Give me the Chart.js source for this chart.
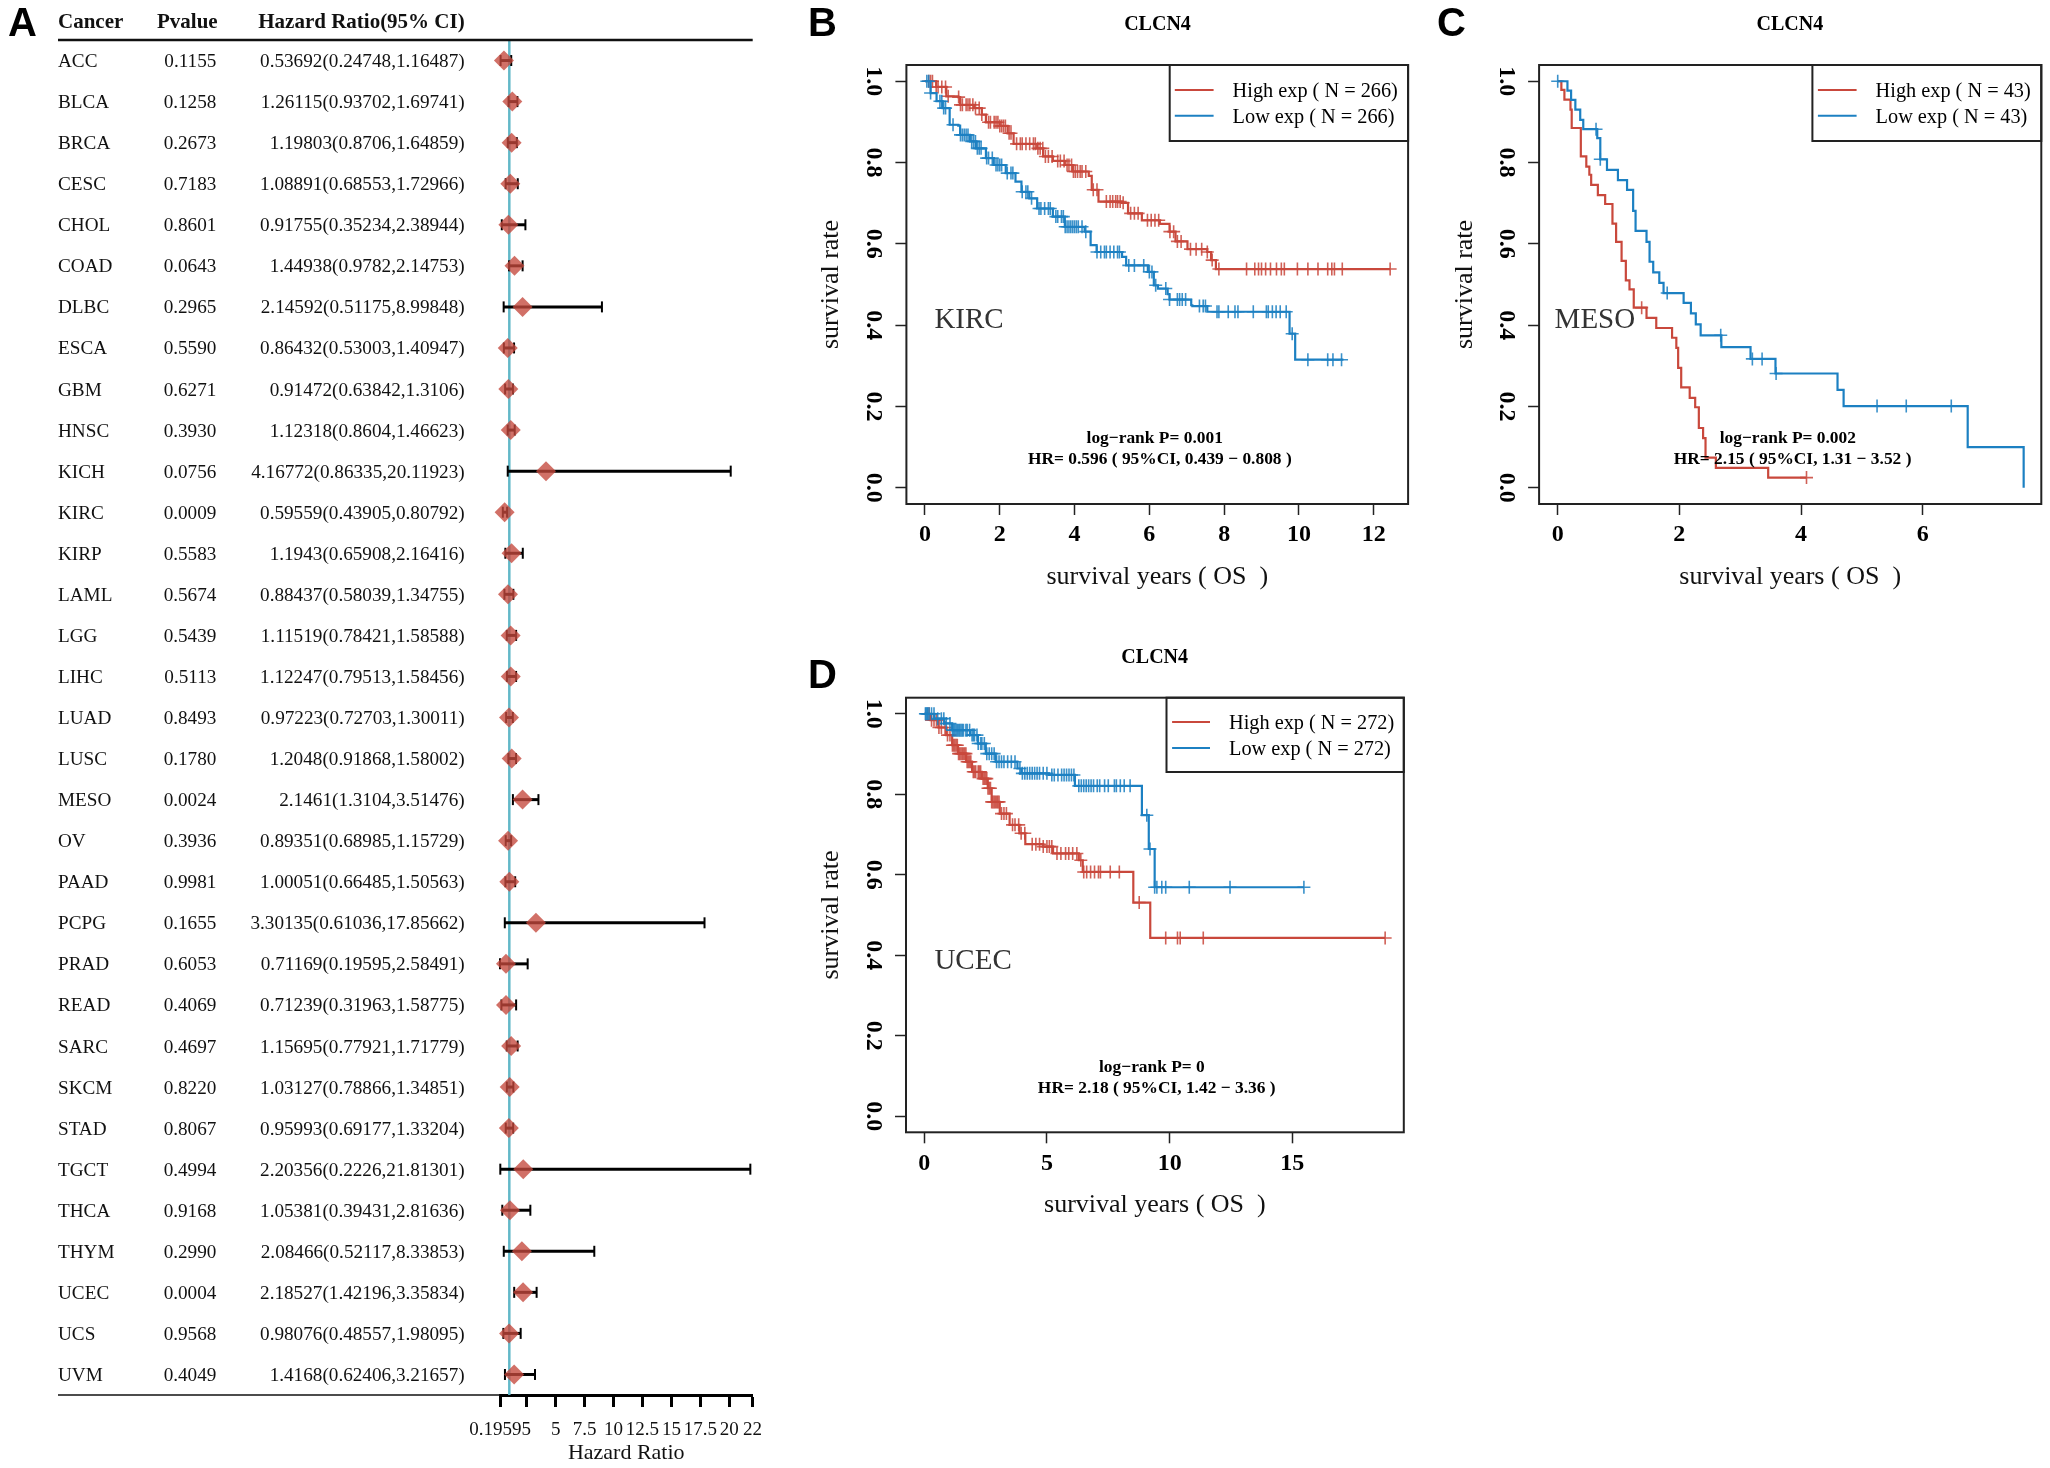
<!DOCTYPE html>
<html>
<head>
<meta charset="utf-8">
<title>CLCN4 survival</title>
<script src="https://cdn.jsdelivr.net/npm/chart.js@4"></script>
<style>
  html, body { margin: 0; padding: 0; background: #fff; }
  canvas { position: absolute; }
</style>
</head>
<body>
<canvas id="panelA" width="790" height="1468" style="left:0;top:0"></canvas>
<canvas id="panelB" width="620" height="620" style="left:800px;top:0"></canvas>
<canvas id="panelC" width="620" height="620" style="left:1430px;top:0"></canvas>
<canvas id="panelD" width="620" height="630" style="left:800px;top:630px"></canvas>
<script>
// forest plot table
const cancers = ["ACC","BLCA","BRCA","CESC","CHOL","COAD","DLBC","ESCA","GBM","HNSC","KICH","KIRC","KIRP","LAML","LGG","LIHC","LUAD","LUSC","MESO","OV","PAAD","PCPG","PRAD","READ","SARC","SKCM","STAD","TGCT","THCA","THYM","UCEC","UCS","UVM"];
const pValues = [0.1155,0.1258,0.2673,0.7183,0.8601,0.0643,0.2965,0.5590,0.6271,0.3930,0.0756,0.0009,0.5583,0.5674,0.5439,0.5113,0.8493,0.1780,0.0024,0.3936,0.9981,0.1655,0.6053,0.4069,0.4697,0.8220,0.8067,0.4994,0.9168,0.2990,0.0004,0.9568,0.4049];
const hazard = [0.53692,1.26115,1.19803,1.08891,0.91755,1.44938,2.14592,0.86432,0.91472,1.12318,4.16772,0.59559,1.1943,0.88437,1.11519,1.12247,0.97223,1.2048,2.1461,0.89351,1.00051,3.30135,0.71169,0.71239,1.15695,1.03127,0.95993,2.20356,1.05381,2.08466,2.18527,0.98076,1.4168];
const ciLow = [0.24748,0.93702,0.8706,0.68553,0.35234,0.9782,0.51175,0.53003,0.63842,0.8604,0.86335,0.43905,0.65908,0.58039,0.78421,0.79513,0.72703,0.91868,1.3104,0.68985,0.66485,0.61036,0.19595,0.31963,0.77921,0.78866,0.69177,0.2226,0.39431,0.52117,1.42196,0.48557,0.62406];
const ciHigh = [1.16487,1.69741,1.64859,1.72966,2.38944,2.14753,8.99848,1.40947,1.3106,1.46623,20.11923,0.80792,2.16416,1.34755,1.58588,1.58456,1.30011,1.58002,3.51476,1.15729,1.50563,17.85662,2.58491,1.58775,1.71779,1.34851,1.33204,21.81301,2.81636,8.33853,3.35834,1.98095,3.21657];
const hrTicks = [0.19595,2.5,5,7.5,10,12.5,15,17.5,20,22];
const hrTickLabels = ["0.19595","","5","7.5","10","12.5","15","17.5","20","22"];

// KIRC curves, years and survival
const kircHighTime = [0,0.3,0.57,0.89,0.94,1.31,1.52,1.63,2.0,2.21,2.37,3.0,3.16,3.42,3.74,3.95,4.38,4.46,4.64,5.27,5.43,5.8,6.28,6.54,6.7,7.02,7.55,7.65,7.78,12.44];
const kircHighSurv = [1,0.986,0.963,0.961,0.942,0.934,0.918,0.899,0.89,0.872,0.846,0.835,0.815,0.804,0.794,0.778,0.767,0.733,0.704,0.701,0.675,0.658,0.649,0.63,0.606,0.587,0.58,0.56,0.538,0.538];
const kircHighCensor = [0.1,0.15,0.2,0.3,0.35,0.45,0.55,0.62,0.9,0.95,1.0,1.1,1.15,1.2,1.28,1.35,1.45,1.52,1.7,1.75,1.85,1.9,1.95,2.0,2.05,2.1,2.15,2.25,2.3,2.45,2.55,2.6,2.7,2.8,2.9,2.95,3.02,3.08,3.15,3.22,3.3,3.4,3.55,3.62,3.72,3.8,3.85,3.92,3.97,4.02,4.08,4.15,4.2,4.3,4.5,4.6,4.85,4.95,5.02,5.1,5.15,5.22,5.3,5.5,5.6,5.7,5.95,6.05,6.15,6.25,6.55,6.65,6.75,6.85,7.1,7.25,7.4,7.55,7.68,7.86,8.6,8.82,8.92,9.0,9.11,9.24,9.4,9.53,9.61,9.96,10.24,10.51,10.77,10.88,10.95,11.16,12.44];
const kircLowTime = [0,0.15,0.31,0.47,0.66,0.89,0.94,1.2,1.36,1.63,1.84,2.16,2.42,2.58,2.79,3.0,3.42,3.74,4.27,4.43,4.59,5.27,5.38,5.96,6.12,6.23,6.49,6.54,7.12,7.15,7.55,9.75,9.9,11.19];
const kircLowSurv = [1,0.971,0.951,0.934,0.893,0.891,0.868,0.852,0.835,0.811,0.794,0.774,0.753,0.728,0.712,0.687,0.667,0.642,0.63,0.597,0.58,0.568,0.547,0.531,0.498,0.49,0.476,0.463,0.449,0.447,0.433,0.379,0.315,0.315];
const kircLowCensor = [0.05,0.1,0.15,0.4,0.45,0.5,0.55,0.75,0.95,1.0,1.05,1.1,1.15,1.25,1.3,1.35,1.4,1.45,1.5,1.65,1.7,1.8,1.9,1.95,2.0,2.05,2.2,2.3,2.35,2.6,2.7,2.75,2.85,3.05,3.1,3.2,3.3,3.35,3.5,3.55,3.65,3.7,3.75,3.8,3.85,3.9,3.95,4.0,4.05,4.1,4.2,4.3,4.6,4.7,4.8,4.85,4.95,5.05,5.15,5.2,5.45,5.6,5.85,6.0,6.07,6.17,6.44,6.54,6.75,6.81,6.88,6.97,7.34,7.44,7.5,7.81,7.86,8.11,8.29,8.37,8.78,9.13,9.18,9.29,9.39,9.5,9.66,9.82,10.24,10.77,10.91,11.14];

// MESO curves, panel C
const mesoHighTime = [0,0.06,0.11,0.21,0.23,0.38,0.47,0.52,0.55,0.66,0.78,0.9,0.96,1.05,1.12,1.18,1.25,1.46,1.62,1.88,1.95,1.98,2.03,2.17,2.26,2.32,2.39,2.43,2.6,3.46,4.09];
const mesoHighSurv = [1,0.979,0.955,0.93,0.885,0.815,0.79,0.77,0.745,0.72,0.698,0.65,0.605,0.558,0.51,0.488,0.443,0.418,0.393,0.369,0.344,0.295,0.247,0.221,0.198,0.147,0.122,0.074,0.049,0.025,0.025];
const mesoHighCensor = [1.38,4.09];
const mesoLowTime = [0,0.16,0.22,0.29,0.37,0.42,0.65,0.7,0.81,0.99,1.14,1.24,1.28,1.46,1.51,1.57,1.67,1.74,2.07,2.19,2.27,2.35,2.69,3.17,3.58,4.6,4.7,6.74,7.66];
const mesoLowSurv = [1,0.977,0.954,0.93,0.905,0.882,0.86,0.808,0.782,0.757,0.733,0.681,0.632,0.605,0.556,0.53,0.504,0.479,0.455,0.429,0.402,0.375,0.346,0.317,0.281,0.241,0.201,0.1,0];
const mesoLowCensor = [0,0.63,0.7,1.8,2.68,3.2,3.36,3.59,5.25,5.73,6.47];

// UCEC curves, panel D
const ucecHighTime = [0,0.26,0.58,0.9,1.14,1.38,1.71,1.95,2.35,2.59,2.75,3.08,3.48,3.88,4.12,4.85,5.25,6.3,6.46,8.52,9.21,18.78];
const ucecHighSurv = [1,0.984,0.966,0.947,0.922,0.901,0.881,0.856,0.839,0.815,0.781,0.752,0.724,0.703,0.676,0.67,0.653,0.636,0.607,0.531,0.443,0.443];
const ucecHighCensor = [0.2,0.3,0.4,0.5,0.6,0.7,0.85,0.95,1.05,1.15,1.2,1.25,1.3,1.35,1.4,1.45,1.5,1.55,1.6,1.65,1.7,1.75,1.8,1.85,1.9,2.0,2.05,2.1,2.2,2.25,2.3,2.4,2.45,2.5,2.55,2.6,2.65,2.7,2.75,2.8,2.85,2.9,2.95,3.0,3.05,3.15,3.25,3.35,3.6,3.7,3.85,3.95,4.1,4.4,4.55,4.7,4.85,5.0,5.1,5.2,5.41,5.57,5.76,5.89,6.05,6.22,6.38,6.5,6.62,6.78,6.94,7.1,7.18,7.58,7.95,8.76,9.84,10.32,10.43,11.37,18.78];
const ucecLowTime = [0,0.42,0.82,1.14,1.87,2.19,2.51,2.91,3.8,3.96,5.09,6.14,8.87,9.15,9.39,15.47];
const ucecLowSurv = [1,0.988,0.976,0.959,0.947,0.926,0.901,0.881,0.864,0.852,0.848,0.821,0.748,0.664,0.569,0.569];
const ucecLowCensor = [0.05,0.08,0.12,0.15,0.2,0.3,0.4,0.55,0.7,0.8,0.9,1.05,1.15,1.2,1.25,1.3,1.35,1.4,1.45,1.5,1.55,1.6,1.7,1.75,1.85,1.95,2.0,2.05,2.15,2.2,2.3,2.35,2.45,2.55,2.65,2.75,2.85,2.95,3.05,3.15,3.25,3.4,3.55,3.7,3.9,4.0,4.1,4.2,4.3,4.4,4.5,4.6,4.7,4.85,5.0,5.2,5.3,5.45,5.6,5.7,5.8,5.9,6.0,6.1,6.3,6.4,6.5,6.6,6.7,6.8,6.9,7.05,7.15,7.35,7.5,7.75,7.83,7.99,8.15,8.39,9.07,9.2,9.39,9.48,9.68,9.84,10.8,12.46,15.47];

const survivalTicks = [0,0.2,0.4,0.6,0.8,1];

const RED = "#c9483c";
const BLUE = "#1c80c2";
const SERIF = "'Liberation Serif'";

Chart.defaults.font.family = SERIF;
Chart.defaults.color = "#000";
Chart.defaults.animation = false;
Chart.defaults.devicePixelRatio = 1;
Chart.defaults.responsive = false;

function panelLetter(ctx, letter, x, y) {
    ctx.font = "bold 40px 'Liberation Sans'";
    ctx.fillStyle = "#000";
    ctx.textAlign = "left";
    ctx.textBaseline = "alphabetic";
    ctx.fillText(letter, x, y);
}

// survival level at time t, read back from the step curve
function survivalAt(times, surv, t) {
    let s = surv[0];
    for (let i = 0; i < times.length; i++) {
        if (times[i] <= t) s = surv[i];
    }
    return s;
}

function curveSets(times, surv, censor, color, label) {
    return [
        {
            label: label,
            data: times.map((t, i) => ({ x: t, y: surv[i] })),
            showLine: true,
            stepped: true,
            borderColor: color,
            borderWidth: 2.2,
            pointRadius: 0
        },
        {
            label: label + " censored",
            data: censor.map(t => ({ x: t, y: survivalAt(times, surv, t) })),
            pointStyle: "cross",
            pointRadius: 6.5,
            borderColor: color + "dd",
            backgroundColor: color,
            pointBorderWidth: 1.6
        }
    ];
}

// one Kaplan-Meier panel, p holds the page coordinates of its parts
function survivalPanel(p) {
    const axisW = p.area.left - p.ylabelX + 15.6;
    const axisH = p.xlabelY - p.area.bottom + 15.6;
    const decorate = {
        id: "decorate",
        afterDraw(chart) {
            const ctx = chart.ctx;
            const ox = p.box.left, oy = p.box.top;
            const a = chart.chartArea;
            ctx.save();
            ctx.strokeStyle = "#222";
            ctx.lineWidth = 2;
            ctx.strokeRect(a.left, a.top, a.right - a.left, a.bottom - a.top);
            ctx.strokeRect(p.legend.left - ox, a.top, a.right - p.legend.left + ox, p.legend.bottom - oy - a.top);

            ctx.lineWidth = 2;
            ctx.strokeStyle = RED;
            ctx.beginPath();
            ctx.moveTo(p.legend.lineFrom - ox, p.legend.y1 - oy);
            ctx.lineTo(p.legend.lineTo - ox, p.legend.y1 - oy);
            ctx.stroke();
            ctx.strokeStyle = BLUE;
            ctx.beginPath();
            ctx.moveTo(p.legend.lineFrom - ox, p.legend.y2 - oy);
            ctx.lineTo(p.legend.lineTo - ox, p.legend.y2 - oy);
            ctx.stroke();

            ctx.fillStyle = "#000";
            ctx.textBaseline = "middle";
            ctx.textAlign = "center";
            ctx.font = "bold 20px " + SERIF;
            ctx.fillText("CLCN4", p.titleX - ox, p.titleY + 2.5 - oy);

            ctx.textAlign = "left";
            ctx.font = "20.3px " + SERIF;
            ctx.fillText(p.highLabel, p.legend.textX - ox, p.legend.y1 + 1.5 - oy);
            ctx.fillText(p.lowLabel, p.legend.textX - ox, p.legend.y2 + 1.5 - oy);

            ctx.textAlign = "center";
            ctx.font = "bold 17.4px " + SERIF;
            ctx.fillText(p.logRank, p.logRankX - ox, p.logRankY + 1.5 - oy);
            ctx.fillText(p.hr, p.hrX - ox, p.hrY + 1.5 - oy);

            ctx.textAlign = "left";
            ctx.fillStyle = "#333";
            ctx.font = "29px " + SERIF;
            ctx.fillText(p.cancer, p.cancerX - ox, p.cancerY + 2.5 - oy);

            panelLetter(ctx, p.letter, p.letterX - ox, p.letterY - oy);
            ctx.restore();
        }
    };

    new Chart(document.getElementById(p.canvas), {
        type: "scatter",
        data: {
            datasets: curveSets(p.low[0], p.low[1], p.low[2], BLUE, "Low exp")
                .concat(curveSets(p.high[0], p.high[1], p.high[2], RED, "High exp"))
        },
        options: {
            layout: {
                padding: {
                    left: p.area.left - p.box.left - axisW,
                    top: p.area.top - p.box.top,
                    right: p.box.left + p.box.width - p.area.right,
                    bottom: p.box.top + p.box.height - p.area.bottom - axisH
                }
            },
            plugins: {
                legend: { display: false },
                tooltip: { enabled: false }
            },
            scales: {
                x: {
                    type: "linear",
                    min: p.xMin,
                    max: p.xMax,
                    afterBuildTicks(scale) { scale.ticks = p.xTicks.map(v => ({ value: v })); },
                    afterFit(scale) { scale.height = axisH; },
                    grid: { drawOnChartArea: false, tickLength: 11, tickColor: "#222", tickWidth: 1.5 },
                    border: { display: false },
                    ticks: {
                        autoSkip: false,
                        maxRotation: 0,
                        padding: 5.6,
                        color: "#000",
                        font: { size: 24, weight: "bold", family: SERIF }
                    },
                    title: {
                        display: true,
                        text: "survival years ( OS  )",
                        font: { size: 26, family: SERIF },
                        color: "#111",
                        padding: 0
                    }
                },
                y: {
                    type: "linear",
                    min: -0.04,
                    max: 1.04,
                    afterBuildTicks(scale) { scale.ticks = survivalTicks.map(v => ({ value: v })); },
                    afterFit(scale) { scale.width = axisW; },
                    grid: { drawOnChartArea: false, tickLength: 11, tickColor: "#222", tickWidth: 1.5 },
                    border: { display: false },
                    ticks: {
                        minRotation: -90,
                        maxRotation: -90,
                        crossAlign: "center",
                        padding: 6.9,
                        color: "#000",
                        font: { size: 24, weight: "bold", family: SERIF },
                        callback: v => v.toFixed(1)
                    },
                    title: {
                        display: true,
                        text: "survival rate",
                        font: { size: 26, family: SERIF },
                        color: "#111",
                        padding: 0
                    }
                }
            }
        },
        plugins: [decorate]
    });
}

survivalPanel({
    canvas: "panelB",
    box: { left: 800, top: 0, width: 620, height: 620 },
    area: { left: 906.4, top: 65, right: 1408.1, bottom: 504 },
    xMin: -0.497, xMax: 12.92,
    xTicks: [0,2,4,6,8,10,12],
    ylabelX: 831.6, xlabelY: 576.7,
    titleX: 1157.5, titleY: 22,
    low: [kircLowTime, kircLowSurv, kircLowCensor],
    high: [kircHighTime, kircHighSurv, kircHighCensor],
    legend: { left: 1169.7, bottom: 141, lineFrom: 1174.8, lineTo: 1213.6, textX: 1232.6, y1: 90, y2: 115.7 },
    highLabel: "High exp ( N = 266)",
    lowLabel: "Low exp ( N = 266)",
    logRank: "log\u2212rank P= 0.001", logRankX: 1154.7, logRankY: 436.7,
    hr: "HR= 0.596 ( 95%CI, 0.439 \u2212 0.808 )", hrX: 1159.8, hrY: 457.7,
    cancer: "KIRC", cancerX: 934.4, cancerY: 317.7,
    letter: "B", letterX: 808, letterY: 36
});

survivalPanel({
    canvas: "panelC",
    box: { left: 1430, top: 0, width: 620, height: 620 },
    area: { left: 1539.1, top: 65, right: 2041.3, bottom: 504 },
    xMin: -0.306, xMax: 7.95,
    xTicks: [0,2,4,6],
    ylabelX: 1465.6, xlabelY: 576.7,
    titleX: 1789.8, titleY: 22,
    low: [mesoLowTime, mesoLowSurv, mesoLowCensor],
    high: [mesoHighTime, mesoHighSurv, mesoHighCensor],
    legend: { left: 1812.4, bottom: 141, lineFrom: 1817.9, lineTo: 1856.6, textX: 1875.6, y1: 90, y2: 115.7 },
    highLabel: "High exp ( N = 43)",
    lowLabel: "Low exp ( N = 43)",
    logRank: "log\u2212rank P= 0.002", logRankX: 1787.8, logRankY: 436.7,
    hr: "HR= 2.15 ( 95%CI, 1.31 \u2212 3.52 )", hrX: 1792.6, hrY: 457.7,
    cancer: "MESO", cancerX: 1554.6, cancerY: 317.7,
    letter: "C", letterX: 1437, letterY: 36
});

survivalPanel({
    canvas: "panelD",
    box: { left: 800, top: 630, width: 620, height: 630 },
    area: { left: 906, top: 697.7, right: 1403.8, bottom: 1132.3 },
    xMin: -0.741, xMax: 19.54,
    xTicks: [0,5,10,15],
    ylabelX: 831.6, xlabelY: 1205,
    titleX: 1154.7, titleY: 655,
    low: [ucecLowTime, ucecLowSurv, ucecLowCensor],
    high: [ucecHighTime, ucecHighSurv, ucecHighCensor],
    legend: { left: 1166.5, bottom: 772, lineFrom: 1172.1, lineTo: 1210, textX: 1229, y1: 722, y2: 748 },
    highLabel: "High exp ( N = 272)",
    lowLabel: "Low exp ( N = 272)",
    logRank: "log\u2212rank P= 0", logRankX: 1151.9, logRankY: 1066,
    hr: "HR= 2.18 ( 95%CI, 1.42 \u2212 3.36 )", hrX: 1156.7, hrY: 1087,
    cancer: "UCEC", cancerX: 934.4, cancerY: 959,
    letter: "D", letterX: 808, letterY: 688
});

// panel A: forest plot with the table drawn beside it
const forestTable = {
    id: "forestTable",
    afterDraw(chart) {
        const ctx = chart.ctx;
        const y = chart.scales.y;
        ctx.save();
        ctx.fillStyle = "#111";
        ctx.textBaseline = "middle";

        ctx.font = "bold 21px " + SERIF;
        ctx.textAlign = "left";
        ctx.fillText("Cancer", 58, 22.5);
        ctx.fillText("Pvalue", 157, 22.5);
        ctx.textAlign = "right";
        ctx.fillText("Hazard Ratio(95% CI)", 464.7, 22.5);

        ctx.font = "19.2px " + SERIF;
        cancers.forEach((name, i) => {
            const py = y.getPixelForValue(i) + 1.5;
            ctx.textAlign = "left";
            ctx.fillText(name, 58, py);
            ctx.textAlign = "right";
            ctx.fillText(pValues[i].toFixed(4), 216.4, py);
            ctx.fillText(hazard[i] + "(" + ciLow[i] + "," + ciHigh[i] + ")", 464.7, py);
        });

        ctx.strokeStyle = "#111";
        ctx.lineWidth = 2.5;
        ctx.beginPath();
        ctx.moveTo(58, 40);
        ctx.lineTo(752.7, 40);
        ctx.stroke();
        ctx.lineWidth = 1.6;
        ctx.beginPath();
        ctx.moveTo(58, 1395);
        ctx.lineTo(500, 1395);
        ctx.stroke();

        panelLetter(ctx, "A", 8, 36);
        ctx.restore();
    }
};

const forestSets = [
    {
        label: "HR",
        data: cancers.map((c, i) => ({ x: hazard[i], y: i })),
        pointStyle: "rectRot",
        pointRadius: 10,
        backgroundColor: "rgba(196,72,60,0.78)",
        borderColor: "rgba(196,72,60,0.78)",
        pointBorderWidth: 0,
        clip: false
    }
];
cancers.forEach((c, i) => {
    forestSets.push({
        label: c,
        data: [{ x: ciLow[i], y: i }, { x: ciHigh[i], y: i }],
        showLine: true,
        borderColor: "#000",
        borderWidth: 3,
        pointStyle: "line",
        rotation: 90,
        pointRadius: 5.5,
        pointBorderColor: "#000",
        pointBorderWidth: 2,
        clip: false
    });
});
forestSets.push({
    label: "HR = 1",
    data: [{ x: 1, y: -0.5 }, { x: 1, y: 32.5 }],
    showLine: true,
    borderColor: "#62b8c8",
    borderWidth: 2.5,
    pointRadius: 0
});

new Chart(document.getElementById("panelA"), {
    type: "scatter",
    data: { datasets: forestSets },
    options: {
        layout: { padding: { left: 500, top: 40, right: 37.5, bottom: 1468 - 1395 - 71.5 } },
        plugins: { legend: { display: false }, tooltip: { enabled: false } },
        scales: {
            x: {
                type: "linear",
                min: 0.19595,
                max: 22,
                afterBuildTicks(scale) { scale.ticks = hrTicks.map(v => ({ value: v })); },
                afterFit(scale) { scale.height = 71.5; },
                grid: { drawOnChartArea: false, tickLength: 12, tickColor: "#000", tickWidth: 3 },
                border: { color: "#000", width: 3 },
                ticks: {
                    autoSkip: false,
                    maxRotation: 0,
                    padding: 11.5,
                    color: "#111",
                    font: { size: 19, family: SERIF },
                    callback: v => hrTickLabels[hrTicks.indexOf(v)]
                },
                title: {
                    display: true,
                    text: "Hazard Ratio",
                    font: { size: 22, family: SERIF },
                    color: "#111",
                    padding: 0
                }
            },
            y: { type: "linear", reverse: true, min: -0.5, max: 32.5, display: false }
        }
    },
    plugins: [forestTable]
});
</script>
</body>
</html>
